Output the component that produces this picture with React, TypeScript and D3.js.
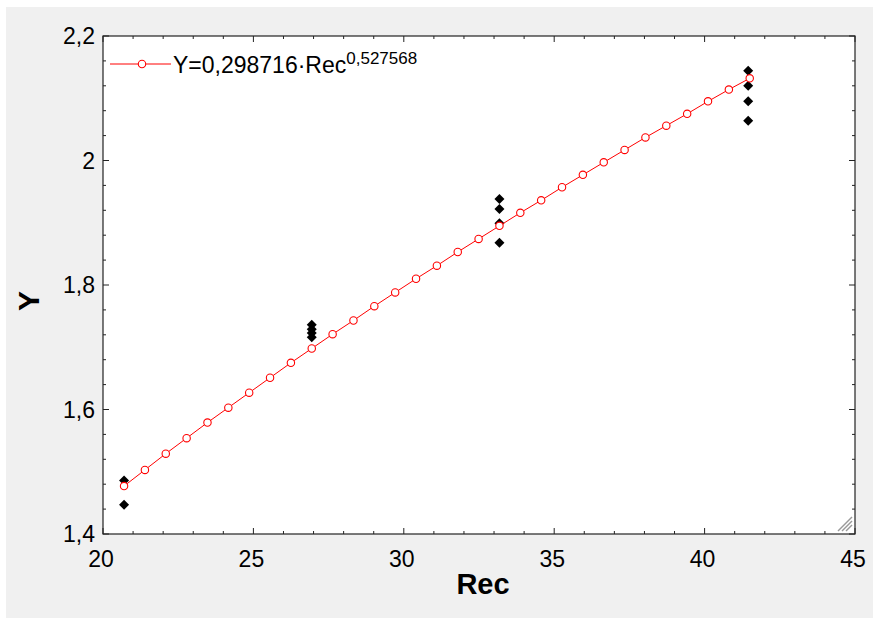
import React from "react";
import * as d3 from "d3";

const fitRec = [20.7, 21.3933, 22.0867, 22.78, 23.4733, 24.1667, 24.86, 25.5533, 26.2467, 26.94, 27.6333, 28.3267, 29.02, 29.7133, 30.4067, 31.1, 31.7933, 32.4867, 33.18, 33.8733, 34.5667, 35.26, 35.9533, 36.6467, 37.34, 38.0333, 38.7267, 39.42, 40.1133, 40.8067, 41.5];
const fitY = [1.477, 1.503, 1.529, 1.554, 1.579, 1.603, 1.627, 1.651, 1.675, 1.698, 1.721, 1.743, 1.766, 1.788, 1.81, 1.831, 1.853, 1.874, 1.895, 1.916, 1.936, 1.957, 1.977, 1.997, 2.017, 2.037, 2.056, 2.075, 2.095, 2.114, 2.132];

const obsRec = [20.7, 20.7, 26.94, 26.94, 26.94, 26.94, 33.18, 33.18, 33.18, 33.18, 41.45, 41.45, 41.45, 41.45];
const obsY = [1.486, 1.447, 1.736, 1.729, 1.723, 1.716, 1.938, 1.922, 1.899, 1.868, 2.144, 2.12, 2.095, 2.064];

const xTicks = [20, 25, 30, 35, 40, 45];
const yTicks = [1.4, 1.6, 1.8, 2.0, 2.2];
const yTickLabels = ["1,4", "1,6", "1,8", "2", "2,2"];

const legendMain = "Y=0,298716·Rec";
const legendExp = "0,527568";

export default function App() {
  const W = 873, H = 618;
  const L = 103, R = 855, T = 36, B = 534;
  const x = d3.scaleLinear().domain([20, 45]).range([L, R]);
  const y = d3.scaleLinear().domain([1.4, 2.2]).range([B, T]);
  const font = "'Liberation Sans', Arial, sans-serif";

  const xMinor = d3.range(20, 45.001, 1);
  const yMinor = d3.range(0, 21).map((i) => 1.4 + i * 0.04);

  const line = d3
    .line<number>()
    .x((_, i) => x(fitRec[i]))
    .y((d) => y(d));

  const diamond = "M0,-5L5,0L0,5L-5,0Z";

  return (
    <svg
      width={W}
      height={H}
      style={{ position: "absolute", left: 0, top: 0 }}
      fontFamily={font}
    >
      <rect x={0} y={0} width={W} height={H} fill="#ffffff" />
      <rect x={6} y={7} width={W - 6} height={H - 7} fill="#f0f0f0" />
      <rect x={L} y={T} width={R - L} height={B - T} fill="#ffffff" />

      {xMinor.map((v, i) => {
        const major = Math.abs(v % 5) < 1e-6;
        const len = major ? 6 : 3;
        return (
          <g key={"xt" + i} stroke="#222" strokeWidth={1}>
            <line x1={x(v)} x2={x(v)} y1={B} y2={B - len} />
            <line x1={x(v)} x2={x(v)} y1={T} y2={T + len} />
          </g>
        );
      })}
      {yMinor.map((v, i) => {
        const major = i % 5 === 0;
        const len = major ? 6 : 3;
        return (
          <g key={"yt" + i} stroke="#222" strokeWidth={1}>
            <line x1={L} x2={L + len} y1={y(v)} y2={y(v)} />
            <line x1={R} x2={R - len} y1={y(v)} y2={y(v)} />
          </g>
        );
      })}

      {[0, 1, 2].map((k) => (
        <line
          key={"g" + k}
          x1={852}
          y1={517 + 4 * k}
          x2={838 + 4 * k}
          y2={531}
          stroke="#999"
          strokeWidth={1.4}
        />
      ))}

      {obsY.map((v, i) => (
        <path key={"p" + i} d={diamond} transform={`translate(${x(obsRec[i])},${y(v)})`} fill="#000" />
      ))}

      <path d={line(fitY) || ""} fill="none" stroke="#ff0000" strokeWidth={1} />
      {fitY.map((v, i) => (
        <circle key={"c" + i} cx={x(fitRec[i])} cy={y(v)} r={3.7} fill="#fff" stroke="#ff0000" strokeWidth={1.1} />
      ))}

      <rect x={L} y={T} width={R - L} height={B - T} fill="none" stroke="#222" strokeWidth={1.2} />

      <line x1={110} x2={171} y1={64} y2={64} stroke="#ff0000" strokeWidth={1} />
      <circle cx={142} cy={64} r={3.7} fill="#fff" stroke="#ff0000" strokeWidth={1.1} />
      <text x={173} y={73} fontSize={23} fill="#000">
        {legendMain}
        <tspan fontSize={17} dy={-9}>{legendExp}</tspan>
      </text>

      {xTicks.map((v) => (
        <text key={"xl" + v} x={x(v) - 2} y={567} fontSize={23} textAnchor="middle" fill="#000">
          {v}
        </text>
      ))}
      {yTicks.map((v, i) => (
        <text key={"yl" + v} x={95} y={y(v) + 8} fontSize={23} textAnchor="end" fill="#000">
          {yTickLabels[i]}
        </text>
      ))}

      <text x={483} y={594} fontSize={29} fontWeight="bold" textAnchor="middle" fill="#000">
        Rec
      </text>
      <text
        transform="translate(39,301) rotate(-90)"
        fontSize={30}
        fontWeight="bold"
        textAnchor="middle"
        fill="#000"
      >
        Y
      </text>
    </svg>
  );
}
